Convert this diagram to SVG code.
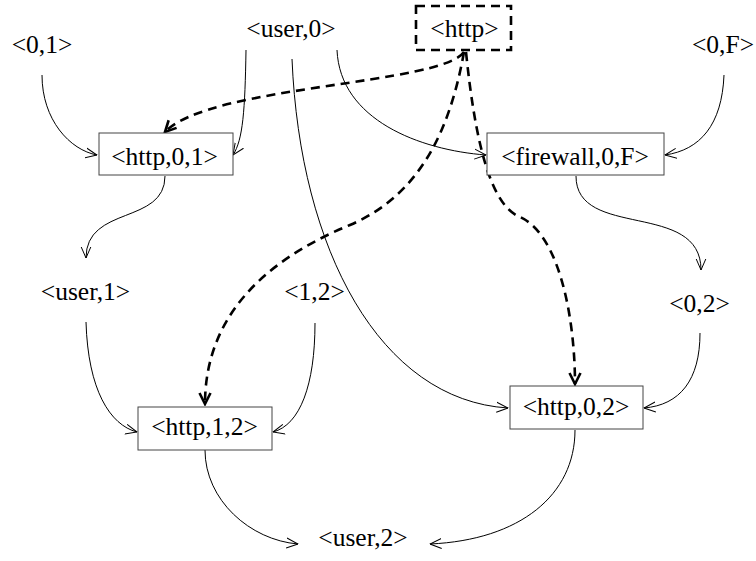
<svg xmlns="http://www.w3.org/2000/svg" width="756" height="561" viewBox="0 0 756 561">
<style>
text{font-family:"Liberation Serif","Times New Roman",serif;font-size:25.5px;fill:#000;text-anchor:middle}
.box{fill:#fff;stroke:#444;stroke-width:1}
.dbox{fill:#fff;stroke:#000;stroke-width:2.6;stroke-dasharray:9 6}
.e{fill:none;stroke:#000;stroke-width:1;marker-end:url(#a)}
.d{fill:none;stroke:#000;stroke-width:2.6;stroke-dasharray:9 6;marker-end:url(#ad)}
</style>
<defs>
<marker id="a" markerUnits="userSpaceOnUse" viewBox="0 0 12 12" refX="11.5" refY="6" markerWidth="12" markerHeight="12" orient="auto">
<path d="M0,1 L11.5,6 L0,11" fill="none" stroke="#000" stroke-width="1"/>
</marker>
<marker id="ad" markerUnits="userSpaceOnUse" viewBox="0 0 14 14" refX="12" refY="7" markerWidth="14" markerHeight="14" orient="auto">
<path d="M1,1.5 L12,7 L1,12.5" fill="none" stroke="#000" stroke-width="2.6" stroke-linejoin="miter"/>
</marker>
</defs>
<g id="connectors">
<path class="e" d="M42,75 C42,120 70,150 97,155"/>
<path class="e" d="M246,50 C245,110 243,140 233,155"/>
<path class="e" d="M292,59 C300,250 380,400 508,408"/>
<path class="e" d="M337,50 C340,120 420,150 486,155"/>
<path class="e" d="M724,75 C722,125 700,150 665,155"/>
<path class="e" d="M165,176 C165,225 86,205 86,258"/>
<path class="e" d="M576,176 C576,240 701,200 701,270"/>
<path class="e" d="M86,322 C88,390 110,425 137,432"/>
<path class="e" d="M315,323 C315,385 300,425 273,432"/>
<path class="e" d="M700,333 C700,380 680,405 644,408"/>
<path class="e" d="M205,450 C205,500 250,540 298,544"/>
<path class="e" d="M575,430 C575,495 520,540 430,544"/>
<path class="d" d="M464,52 C440,85 210,85 165,132"/>
<path class="d" d="M464,52 C450,130 420,195 350,225 C260,262 205,320 205,404"/>
<path class="d" d="M466,52 C475,140 490,205 520,217 C560,235 575,320 575,384"/>
</g>
<g id="n_01"><text x="42" y="53">&lt;0,1&gt;</text></g>
<g id="n_user0"><text x="291" y="37">&lt;user,0&gt;</text></g>
<g id="n_http"><rect class="dbox" x="416" y="6" width="95" height="44"/><text x="464.5" y="37">&lt;http&gt;</text></g>
<g id="n_0F"><text x="723" y="53">&lt;0,F&gt;</text></g>
<g id="n_http01"><rect class="box" x="99" y="133" width="134" height="42"/><text x="164.5" y="165">&lt;http,0,1&gt;</text></g>
<g id="n_fw0F"><rect class="box" x="487" y="133" width="177" height="42"/><text x="575" y="164.5">&lt;firewall,0,F&gt;</text></g>
<g id="n_user1"><text x="85.5" y="300">&lt;user,1&gt;</text></g>
<g id="n_12"><text x="314.5" y="300">&lt;1,2&gt;</text></g>
<g id="n_02"><text x="699.5" y="311.5">&lt;0,2&gt;</text></g>
<g id="n_http12"><rect class="box" x="138" y="407" width="134" height="43"/><text x="204.5" y="435">&lt;http,1,2&gt;</text></g>
<g id="n_http02"><rect class="box" x="510" y="386" width="133" height="43"/><text x="576" y="415">&lt;http,0,2&gt;</text></g>
<g id="n_user2"><text x="363" y="546">&lt;user,2&gt;</text></g>
</svg>
